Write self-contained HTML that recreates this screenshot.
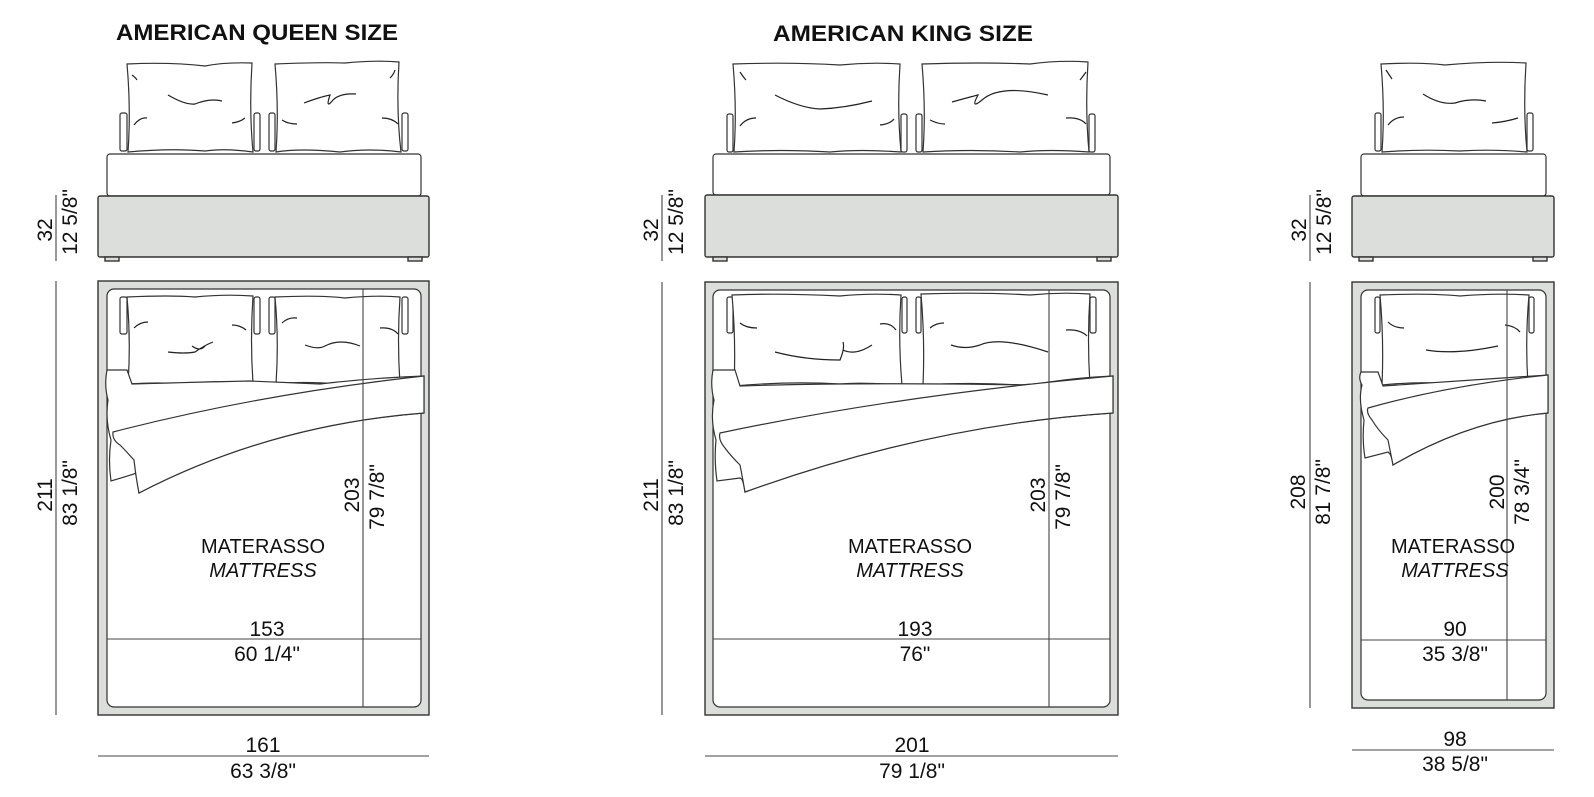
<!DOCTYPE html>
<html><head><meta charset="utf-8"><style>
html,body{margin:0;padding:0;background:#fff;}
svg{display:block;}
text{font-family:"Liberation Sans",Arial,sans-serif;fill:#111;}
.t{font-size:21px;}
.m{font-size:20px;}
.b{font-weight:bold;font-size:22px;}
.l{fill:none;stroke:#222;stroke-width:1.2;}
.g{fill:#dcdedb;stroke:#333;stroke-width:1.4;}
.w{fill:#fff;stroke:#333;stroke-width:1.2;}
.d{stroke:#444;stroke-width:1.1;fill:none;}
</style></head><body>
<svg width="1594" height="797" viewBox="0 0 1594 797" xmlns="http://www.w3.org/2000/svg">

<!-- ================= QUEEN ================= -->
<text class="b" x="257" y="40" text-anchor="middle" textLength="282" lengthAdjust="spacingAndGlyphs">AMERICAN QUEEN SIZE</text>
<!-- elevation supports -->
<rect class="w" x="120" y="113" width="7" height="38" rx="2"/>
<rect class="w" x="254" y="113" width="6" height="38" rx="2"/>
<rect class="w" x="269" y="113" width="6" height="38" rx="2"/>
<rect class="w" x="402" y="113" width="6" height="38" rx="2"/>
<!-- elevation pillows -->
<path class="w" d="M127,64 Q170,62 205,66 Q225,62 252,63 Q249,110 253,152 Q225,148 205,151 Q170,148 128,152 Q131,110 127,64 Z"/>
<path class="l" d="M168,95 Q185,105 195,104 Q210,98 222,101 M232,123 Q240,122 245,118 M134,125 Q140,117 147,118 M132,75 Q136,78 137,80"/>
<path class="w" d="M275,64 Q320,62 345,63 Q375,60 399,62 Q396,110 401,152 Q370,148 340,152 Q300,148 276,152 Q279,110 275,64 Z"/>
<path class="l" d="M304,103 Q320,97 330,95 Q325,110 333,100 Q340,93 356,94 M382,118 Q392,118 398,124 M282,120 Q288,124 297,124 M390,78 Q394,74 395,70"/>
<!-- elevation base -->
<rect class="w" x="107" y="154" width="314" height="42" rx="3"/>
<rect class="g" x="98" y="196" width="331" height="61" rx="2"/>
<rect class="g" x="105" y="257" width="14" height="4"/>
<rect class="g" x="408" y="257" width="14" height="4"/>
<!-- top view frame -->
<rect class="g" x="98" y="281" width="331" height="434"/>
<rect class="w" x="107" y="289" width="314" height="418" rx="7"/>
<rect class="w" x="120" y="297" width="7" height="37" rx="2"/>
<rect class="w" x="254" y="297" width="6" height="37" rx="2"/>
<rect class="w" x="269" y="297" width="6" height="37" rx="2"/>
<rect class="w" x="402" y="297" width="6" height="37" rx="2"/>
<path class="w" d="M127,297 Q170,295 195,297 Q225,294 253,296 Q250,340 253,383 Q210,380 185,384 Q160,382 128,384 Q131,340 127,297 Z"/>
<path class="l" d="M168,352 Q185,354 195,352 Q205,345 213,342 M192,346 Q200,352 205,346 M232,325 Q240,325 246,330 M134,328 Q140,322 148,322"/>
<path class="w" d="M275,297 Q320,295 345,298 Q375,295 400,297 Q397,340 400,384 Q370,381 340,384 Q300,381 276,384 Q279,340 275,297 Z"/>
<path class="l" d="M282,323 Q288,317 297,318 M305,345 Q318,350 325,346 Q340,338 360,346 M380,328 Q392,327 398,334"/>
<!-- sheet -->
<path class="w" d="M107,370 L127,370 L132,384 Q200,382 250,381 L320,384 Q370,378 424,376 L424,413 Q270,425 139,493 Q137,470 134,474 L111,481 Q108,460 111,440 Q105,420 108,400 Q104,385 107,370 Z"/>
<path class="w" d="M113,432 Q260,394 424,376 L424,413 Q270,425 139,493 Q136,478 134,460 Q125,450 120,445 Q112,440 113,432 Z"/>
<!-- inner dims -->
<line class="d" x1="363" y1="289" x2="363" y2="707"/>
<line class="d" x1="107" y1="639" x2="421" y2="639"/>
<text class="m" x="263" y="553" text-anchor="middle">MATERASSO</text>
<text class="m" x="263" y="577" text-anchor="middle" font-style="italic">MATTRESS</text>
<text class="t" x="267" y="636" text-anchor="middle">153</text>
<text class="t" x="267" y="661" text-anchor="middle">60 1/4"</text>
<text class="t" transform="translate(359,495) rotate(-90)" text-anchor="middle">203</text>
<text class="t" transform="translate(384,497) rotate(-90)" text-anchor="middle">79 7/8"</text>
<!-- outer dims -->
<line class="d" x1="56" y1="195" x2="56" y2="261"/>
<text class="t" transform="translate(52,230) rotate(-90)" text-anchor="middle">32</text>
<text class="t" transform="translate(77,222) rotate(-90)" text-anchor="middle">12 5/8"</text>
<line class="d" x1="56" y1="281" x2="56" y2="715"/>
<text class="t" transform="translate(52,495) rotate(-90)" text-anchor="middle">211</text>
<text class="t" transform="translate(77,493) rotate(-90)" text-anchor="middle">83 1/8"</text>
<line class="d" x1="98" y1="756" x2="429" y2="756"/>
<text class="t" x="263" y="752" text-anchor="middle">161</text>
<text class="t" x="263" y="778" text-anchor="middle">63 3/8"</text>

<!-- ================= KING ================= -->
<text class="b" x="903" y="41" text-anchor="middle" textLength="260" lengthAdjust="spacingAndGlyphs">AMERICAN KING SIZE</text>
<rect class="w" x="727" y="114" width="6" height="38" rx="2"/>
<rect class="w" x="901" y="114" width="6" height="38" rx="2"/>
<rect class="w" x="916" y="114" width="6" height="38" rx="2"/>
<rect class="w" x="1089" y="114" width="6" height="38" rx="2"/>
<path class="w" d="M733,64 Q790,62 840,65 Q870,62 900,64 Q897,110 901,152 Q860,149 830,152 Q780,149 734,152 Q737,110 733,64 Z"/>
<path class="l" d="M775,95 Q800,108 820,109 Q845,108 872,101 M880,125 Q890,124 894,119 M740,126 Q746,118 756,118 M740,72 Q744,78 746,80"/>
<path class="w" d="M922,64 Q980,62 1030,64 Q1060,60 1088,62 Q1085,110 1089,152 Q1050,149 1020,152 Q970,149 923,152 Q926,110 922,64 Z"/>
<path class="l" d="M952,102 Q970,97 978,95 Q970,110 982,100 Q1000,84 1048,95 M1066,118 Q1080,117 1086,124 M930,120 Q938,124 945,124 M1080,80 Q1084,75 1086,72"/>
<rect class="w" x="713" y="154" width="397" height="41" rx="3"/>
<rect class="g" x="705" y="195" width="413" height="62" rx="2"/>
<rect class="g" x="713" y="257" width="14" height="4"/>
<rect class="g" x="1097" y="257" width="14" height="4"/>
<rect class="g" x="705" y="282" width="413" height="433"/>
<rect class="w" x="713" y="290" width="397" height="417" rx="7"/>
<rect class="w" x="727" y="297" width="6" height="36" rx="2"/>
<rect class="w" x="902" y="297" width="5" height="36" rx="2"/>
<rect class="w" x="916" y="297" width="5" height="36" rx="2"/>
<rect class="w" x="1090" y="297" width="6" height="36" rx="2"/>
<path class="w" d="M732,295 Q780,293 840,296 Q870,293 901,295 Q898,340 902,385 Q860,382 840,384 Q790,381 734,386 Q736,340 732,295 Z"/>
<path class="l" d="M775,352 Q805,360 840,360 Q845,348 843,342 M843,350 Q855,356 872,345 M880,324 Q890,322 896,330 M740,323 Q746,328 757,328"/>
<path class="w" d="M921,294 Q980,292 1030,295 Q1060,292 1090,294 Q1087,340 1090,385 Q1050,382 1020,385 Q970,382 923,385 Q925,340 921,294 Z"/>
<path class="l" d="M930,328 Q936,323 944,323 M951,345 Q965,350 980,345 Q1000,336 1048,352 M1066,330 Q1080,329 1087,336"/>
<path class="w" d="M713,370 L735,370 L740,386 Q860,382 1030,385 Q1070,378 1113,376 L1113,413 Q930,425 745,492 Q743,478 740,478 L717,481 Q714,460 716,440 Q710,420 714,400 Q710,385 713,370 Z"/>
<path class="w" d="M720,433 Q900,395 1113,376 L1113,413 Q930,425 745,492 Q742,475 740,465 Q730,455 725,448 Q718,440 720,433 Z"/>
<line class="d" x1="1049" y1="290" x2="1049" y2="707"/>
<line class="d" x1="713" y1="639" x2="1110" y2="639"/>
<text class="m" x="910" y="553" text-anchor="middle">MATERASSO</text>
<text class="m" x="910" y="577" text-anchor="middle" font-style="italic">MATTRESS</text>
<text class="t" x="915" y="636" text-anchor="middle">193</text>
<text class="t" x="915" y="661" text-anchor="middle">76"</text>
<text class="t" transform="translate(1045,495) rotate(-90)" text-anchor="middle">203</text>
<text class="t" transform="translate(1070,497) rotate(-90)" text-anchor="middle">79 7/8"</text>
<line class="d" x1="662" y1="195" x2="662" y2="261"/>
<text class="t" transform="translate(658,230) rotate(-90)" text-anchor="middle">32</text>
<text class="t" transform="translate(683,222) rotate(-90)" text-anchor="middle">12 5/8"</text>
<line class="d" x1="662" y1="282" x2="662" y2="715"/>
<text class="t" transform="translate(658,495) rotate(-90)" text-anchor="middle">211</text>
<text class="t" transform="translate(683,493) rotate(-90)" text-anchor="middle">83 1/8"</text>
<line class="d" x1="705" y1="756" x2="1118" y2="756"/>
<text class="t" x="912" y="752" text-anchor="middle">201</text>
<text class="t" x="912" y="778" text-anchor="middle">79 1/8"</text>

<!-- ================= SINGLE ================= -->
<rect class="w" x="1375" y="113" width="6" height="38" rx="2"/>
<rect class="w" x="1527" y="113" width="6" height="38" rx="2"/>
<path class="w" d="M1381,64 Q1420,62 1445,65 Q1490,61 1526,63 Q1523,110 1527,152 Q1490,149 1460,151 Q1420,149 1382,152 Q1385,110 1381,64 Z"/>
<path class="l" d="M1423,94 Q1440,105 1455,103 Q1470,98 1486,101 M1492,123 Q1505,122 1518,118 M1388,125 Q1394,117 1404,117 M1386,70 Q1390,76 1392,79"/>
<rect class="w" x="1361" y="154" width="185" height="42" rx="3"/>
<rect class="g" x="1352" y="196" width="202" height="61" rx="2"/>
<rect class="g" x="1359" y="257" width="14" height="4"/>
<rect class="g" x="1533" y="257" width="14" height="4"/>
<rect class="g" x="1352" y="282" width="202" height="426"/>
<rect class="w" x="1361" y="290" width="185" height="410" rx="7"/>
<rect class="w" x="1375" y="297" width="5" height="36" rx="2"/>
<rect class="w" x="1529" y="297" width="5" height="36" rx="2"/>
<path class="w" d="M1380,295 Q1430,293 1460,296 Q1495,293 1529,295 Q1525,340 1528,385 Q1490,382 1460,384 Q1420,381 1382,385 Q1384,340 1380,295 Z"/>
<path class="l" d="M1388,322 Q1394,328 1404,328 M1426,350 Q1455,355 1498,346 M1505,325 Q1515,326 1520,332"/>
<path class="w" d="M1361,372 L1378,372 L1383,386 Q1460,381 1548,375 L1548,413 Q1470,420 1393,465 Q1392,455 1388,452 L1365,458 Q1362,440 1364,420 Q1358,400 1362,385 Q1358,378 1361,372 Z"/>
<path class="w" d="M1368,408 Q1450,385 1548,375 L1548,413 Q1470,420 1393,465 Q1390,450 1388,440 Q1378,430 1372,420 Q1366,413 1368,408 Z"/>
<line class="d" x1="1507" y1="290" x2="1507" y2="700"/>
<line class="d" x1="1361" y1="640" x2="1546" y2="640"/>
<text class="m" x="1453" y="553" text-anchor="middle">MATERASSO</text>
<text class="m" x="1455" y="577" text-anchor="middle" font-style="italic">MATTRESS</text>
<text class="t" x="1455" y="636" text-anchor="middle">90</text>
<text class="t" x="1455" y="661" text-anchor="middle">35 3/8"</text>
<text class="t" transform="translate(1504,492) rotate(-90)" text-anchor="middle">200</text>
<text class="t" transform="translate(1529,492) rotate(-90)" text-anchor="middle">78 3/4"</text>
<line class="d" x1="1310" y1="195" x2="1310" y2="261"/>
<text class="t" transform="translate(1306,230) rotate(-90)" text-anchor="middle">32</text>
<text class="t" transform="translate(1331,222) rotate(-90)" text-anchor="middle">12 5/8"</text>
<line class="d" x1="1310" y1="282" x2="1310" y2="708"/>
<text class="t" transform="translate(1305,492) rotate(-90)" text-anchor="middle">208</text>
<text class="t" transform="translate(1330,492) rotate(-90)" text-anchor="middle">81 7/8"</text>
<line class="d" x1="1352" y1="750" x2="1554" y2="750"/>
<text class="t" x="1455" y="746" text-anchor="middle">98</text>
<text class="t" x="1455" y="771" text-anchor="middle">38 5/8"</text>
</svg>
</body></html>
